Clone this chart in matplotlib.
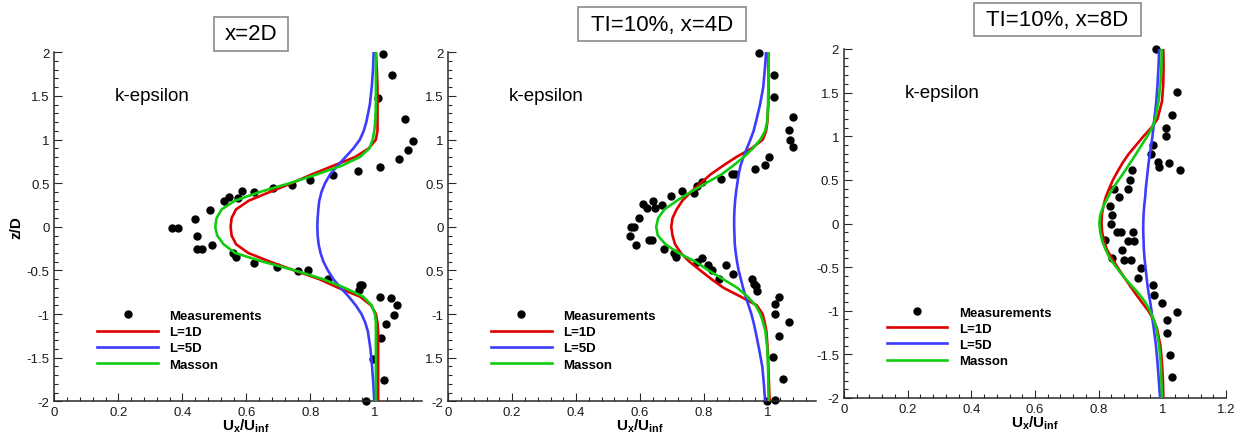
import matplotlib
matplotlib.use('Agg')
import matplotlib.pyplot as plt
from matplotlib.patches import Rectangle
from matplotlib.ticker import MultipleLocator, FixedLocator, FixedFormatter
import numpy as np

plt.rcParams['font.family'] = 'Liberation Sans'
plt.rcParams['mathtext.fontset'] = 'custom'
plt.rcParams['mathtext.rm'] = 'Liberation Sans'
plt.rcParams['mathtext.bf'] = 'Liberation Sans:bold'
plt.rcParams['axes.unicode_minus'] = False

W, H = 1246, 439

# z/D levels where the model profiles were read
z_model = [2.0, 1.8, 1.6, 1.4, 1.2, 1.1, 1.0, 0.9, 0.8, 0.7, 0.6, 0.5, 0.4, 0.3, 0.2, 0.1, 0.0,
           -0.1, -0.2, -0.3, -0.4, -0.5, -0.6, -0.7, -0.8, -0.9, -1.0, -1.1, -1.2, -1.4, -1.6, -1.8, -2.0]

# x = 2D
l1d_2d = [1.005, 1.008, 1.01, 1.01, 1.01, 1.01, 1.005, 0.983, 0.94, 0.872, 0.804, 0.742, 0.674, 0.608, 0.568, 0.554, 0.551,
          0.554, 0.568, 0.606, 0.674, 0.75, 0.828, 0.888, 0.955, 0.99, 1.005, 1.01, 1.012, 1.012, 1.012, 1.012, 1.012]
l5d_2d = [0.998, 0.996, 0.992, 0.986, 0.975, 0.967, 0.955, 0.935, 0.91, 0.885, 0.862, 0.846, 0.835, 0.828, 0.825, 0.823, 0.822,
          0.823, 0.826, 0.832, 0.841, 0.855, 0.872, 0.895, 0.92, 0.942, 0.96, 0.972, 0.98, 0.988, 0.993, 0.997, 1.0]
masson_2d = [1.005, 1.005, 1.005, 1.005, 1.003, 1.0, 0.995, 0.985, 0.955, 0.898, 0.82, 0.736, 0.643, 0.565, 0.523, 0.507, 0.503,
             0.509, 0.529, 0.565, 0.652, 0.752, 0.84, 0.908, 0.965, 0.992, 1.002, 1.005, 1.005, 1.005, 1.005, 1.005, 1.005]
meas_u_2d = [1.028, 1.054, 1.013, 1.096, 1.12, 1.104, 1.077, 1.018, 0.95, 0.872, 0.80, 0.742, 0.684, 0.624, 0.588, 0.575,
             0.547, 0.53, 0.487, 0.44, 0.367, 0.385, 0.447, 0.445, 0.463, 0.492, 0.557, 0.567, 0.624, 0.697, 0.76, 0.794,
             0.856, 0.955, 0.962, 0.953, 1.018, 1.052, 1.07, 1.063, 1.035, 1.021, 0.995, 1.031, 0.973]
meas_z_2d = [1.98, 1.74, 1.48, 1.23, 0.98, 0.88, 0.78, 0.69, 0.64, 0.59, 0.54, 0.48, 0.44, 0.40, 0.41, 0.33,
             0.34, 0.29, 0.19, 0.09, -0.01, -0.01, -0.10, -0.25, -0.25, -0.21, -0.30, -0.35, -0.41, -0.46, -0.51, -0.50,
             -0.60, -0.67, -0.67, -0.72, -0.81, -0.82, -0.90, -1.01, -1.11, -1.27, -1.51, -1.76, -2.0]

# TI=10%, x = 4D
l1d_4d = [1.0, 1.002, 1.003, 1.002, 0.999, 0.995, 0.985, 0.95, 0.902, 0.86, 0.821, 0.79, 0.76, 0.733, 0.715, 0.702, 0.698,
          0.702, 0.71, 0.728, 0.755, 0.789, 0.824, 0.862, 0.915, 0.966, 0.984, 0.991, 0.996, 1.0, 1.002, 1.004, 1.006]
l5d_4d = [0.995, 0.991, 0.986, 0.976, 0.963, 0.956, 0.946, 0.935, 0.924, 0.915, 0.909, 0.905, 0.901, 0.898, 0.896, 0.895, 0.895,
          0.896, 0.897, 0.9, 0.904, 0.909, 0.916, 0.923, 0.931, 0.94, 0.949, 0.956, 0.962, 0.973, 0.983, 0.988, 0.992]
masson_4d = [1.003, 1.003, 1.002, 1.001, 0.998, 0.992, 0.977, 0.954, 0.925, 0.892, 0.855, 0.806, 0.759, 0.716, 0.677, 0.657, 0.651,
             0.656, 0.68, 0.72, 0.774, 0.815, 0.86, 0.905, 0.937, 0.962, 0.977, 0.986, 0.993, 0.999, 1.001, 1.002, 1.003]
meas_u_4d = [0.973, 1.019, 1.019, 1.078, 1.067, 1.069, 1.078, 1.005, 0.991, 0.961, 0.899, 0.889, 0.854, 0.794, 0.778,
             0.77, 0.732, 0.696, 0.669, 0.648, 0.622, 0.609, 0.641, 0.596, 0.58, 0.573, 0.568, 0.589, 0.627, 0.638,
             0.674, 0.708, 0.714, 0.778, 0.794, 0.812, 0.826, 0.846, 0.87, 0.891, 0.952, 0.956, 0.964, 0.968, 1.034,
             1.024, 1.024, 1.067, 1.034, 1.016, 1.049, 1.022, 0.997]
meas_z_4d = [1.99, 1.74, 1.49, 1.26, 1.11, 1.0, 0.91, 0.80, 0.71, 0.66, 0.61, 0.61, 0.55, 0.51, 0.47,
             0.39, 0.41, 0.35, 0.25, 0.21, 0.21, 0.26, 0.30, 0.10, 0.0, 0.0, -0.10, -0.21, -0.15, -0.15,
             -0.25, -0.30, -0.35, -0.40, -0.36, -0.44, -0.50, -0.60, -0.44, -0.54, -0.60, -0.65, -0.68, -0.74, -0.80,
             -0.89, -1.0, -1.09, -1.25, -1.49, -1.74, -1.99, -2.0]

# TI=10%, x = 8D
l1d_8d = [1.003, 1.004, 1.003, 0.999, 0.985, 0.966, 0.941, 0.918, 0.895, 0.876, 0.86, 0.845, 0.833, 0.822, 0.815, 0.81, 0.809,
          0.811, 0.816, 0.826, 0.842, 0.859, 0.877, 0.896, 0.915, 0.935, 0.956, 0.972, 0.983, 0.994, 0.999, 1.002, 1.003]
l5d_8d = [0.99, 0.988, 0.985, 0.981, 0.975, 0.972, 0.969, 0.965, 0.961, 0.957, 0.954, 0.951, 0.948, 0.946, 0.943, 0.941, 0.94,
          0.94, 0.941, 0.942, 0.944, 0.947, 0.95, 0.953, 0.957, 0.962, 0.966, 0.969, 0.973, 0.98, 0.985, 0.989, 0.993]
masson_8d = [0.998, 0.997, 0.994, 0.988, 0.978, 0.968, 0.953, 0.935, 0.918, 0.9, 0.882, 0.863, 0.844, 0.829, 0.815, 0.805, 0.802,
             0.805, 0.811, 0.822, 0.835, 0.855, 0.876, 0.9, 0.925, 0.946, 0.961, 0.973, 0.981, 0.99, 0.995, 0.997, 0.999]
meas_u_8d = [0.98, 1.047, 1.03, 1.012, 1.012, 0.972, 0.965, 0.987, 0.99, 1.022, 1.055, 0.906, 0.897, 0.893, 0.849,
             0.865, 0.836, 0.843, 0.838, 0.857, 0.871, 0.909, 0.82, 0.893, 0.912, 0.873, 0.841, 0.881, 0.902,
             0.933, 0.925, 0.972, 0.974, 0.998, 1.047, 1.014, 1.015, 1.024, 1.03]
meas_z_8d = [2.0, 1.51, 1.24, 1.10, 1.0, 0.90, 0.80, 0.71, 0.65, 0.69, 0.61, 0.61, 0.50, 0.40, 0.40,
             0.30, 0.20, 0.10, -0.01, -0.10, -0.10, -0.10, -0.19, -0.20, -0.20, -0.30, -0.40, -0.42, -0.42,
             -0.51, -0.62, -0.71, -0.82, -0.91, -1.01, -1.11, -1.26, -1.51, -1.76]

titles = ['x=2D', 'TI=10%, x=4D', 'TI=10%, x=8D']
ytick_vals = [-2, -1.5, -1, -0.5, 0, 0.5, 1, 1.5, 2]
ytick_full = ['-2', '-1.5', '-1', '-0.5', '0', '0.5', '1', '1.5', '2']
ytick_cut = ['-2', '1.5', '-1', '0.5', '0', '0.5', '1', '1.5', '2']

panels = [
    dict(l1d=l1d_2d, l5d=l5d_2d, masson=masson_2d, mu=meas_u_2d, mz=meas_z_2d, title=titles[0],
         yt=ytick_full, xmax=1.15, rect=(54.3, 402.3, 368.0, 349.0), box=(214, 288, 18, 52)),
    dict(l1d=l1d_4d, l5d=l5d_4d, masson=masson_4d, mu=meas_u_4d, mz=meas_z_4d, title=titles[1],
         yt=ytick_cut, xmax=1.15, rect=(448.3, 402.3, 367.3, 349.0), box=(578, 746, 8, 42)),
    dict(l1d=l1d_8d, l5d=l5d_8d, masson=masson_8d, mu=meas_u_8d, mz=meas_z_8d, title=titles[2],
         yt=ytick_full, xmax=1.2, rect=(844.0, 399.0, 382.0, 349.0), box=(974, 1141, 4, 37)),
]

RED = '#e00000'
BLUE = '#3c3cff'
GREEN = '#10cc10'
AXC = '#2a2a2a'

fig = plt.figure(figsize=(W / 100, H / 100), dpi=100)

for i, p in enumerate(panels):
    x0, yb, w, h = p['rect']
    ax = fig.add_axes([x0 / W, (H - yb) / H, w / W, h / H])
    ax.set_xlim(0, p['xmax'])
    ax.set_ylim(-2, 2)
    ax.patch.set_alpha(0)

    hm, = ax.plot(p['mu'], p['mz'], 'o', color='black', ms=5, ls='none', clip_on=False, zorder=2)
    h1, = ax.plot(p['l1d'], z_model, color=RED, lw=1.9, zorder=3)
    h5, = ax.plot(p['l5d'], z_model, color=BLUE, lw=1.9, zorder=3)
    hmas, = ax.plot(p['masson'], z_model, color=GREEN, lw=1.9, zorder=4)

    for side in ['top', 'right']:
        ax.spines[side].set_visible(False)
    for side in ['left', 'bottom']:
        ax.spines[side].set_color(AXC)
        ax.spines[side].set_linewidth(1.1)

    ax.xaxis.set_minor_locator(MultipleLocator(0.04))
    ax.yaxis.set_major_locator(FixedLocator(ytick_vals))
    ax.yaxis.set_major_formatter(FixedFormatter(p['yt']))
    ax.yaxis.set_minor_locator(MultipleLocator(0.1))
    xt = [v for v in np.arange(0, p['xmax'] + 1e-6, 0.2)]
    ax.set_xticks(xt)
    ax.set_xticklabels(['%g' % round(v, 1) for v in xt])
    ax.tick_params(which='both', direction='in', color=AXC, width=0.8, labelsize=9.5, labelcolor='#1a1a1a')
    ax.tick_params(which='major', length=6, pad=3.5)
    ax.tick_params(which='minor', length=3)

    ax.text(0.19, 1.5, 'k-epsilon', fontsize=13.5, va='center', ha='left', color='black')

    ax.set_xlabel(r'$\mathbf{U_x/U_{inf}}$', fontsize=11)
    ax.xaxis.set_label_coords(0.6, -0.045, transform=ax.get_xaxis_transform())
    if i == 0:
        ax.set_ylabel('z/D', fontsize=11, fontweight='bold')
        ax.yaxis.set_label_coords(-0.085, 0.5)

    ax.legend([hm, h1, h5, hmas], ['Measurements', 'L=1D', 'L=5D', 'Masson'],
              loc='upper left', bbox_to_anchor=(0.134, -0.95), bbox_transform=ax.transData,
              frameon=False, borderpad=0, borderaxespad=0, handlelength=4.6,
              handletextpad=0.86, labelspacing=0.3, numpoints=1,
              prop={'family': 'Liberation Sans', 'weight': 'bold', 'size': 9.5})

    bx0, bx1, by0, by1 = p['box']
    fig.patches.append(Rectangle((bx0 / W, 1 - by1 / H), (bx1 - bx0) / W, (by1 - by0) / H,
                                 transform=fig.transFigure, fill=False, ec='#8a8a8a', lw=1.2))
    fig.text((bx0 + bx1) / 2 / W, 1 - (by0 + by1) / 2 / H, p['title'], fontsize=16,
             ha='center', va='center', color='black')

fig.savefig('out.png', dpi=100)
